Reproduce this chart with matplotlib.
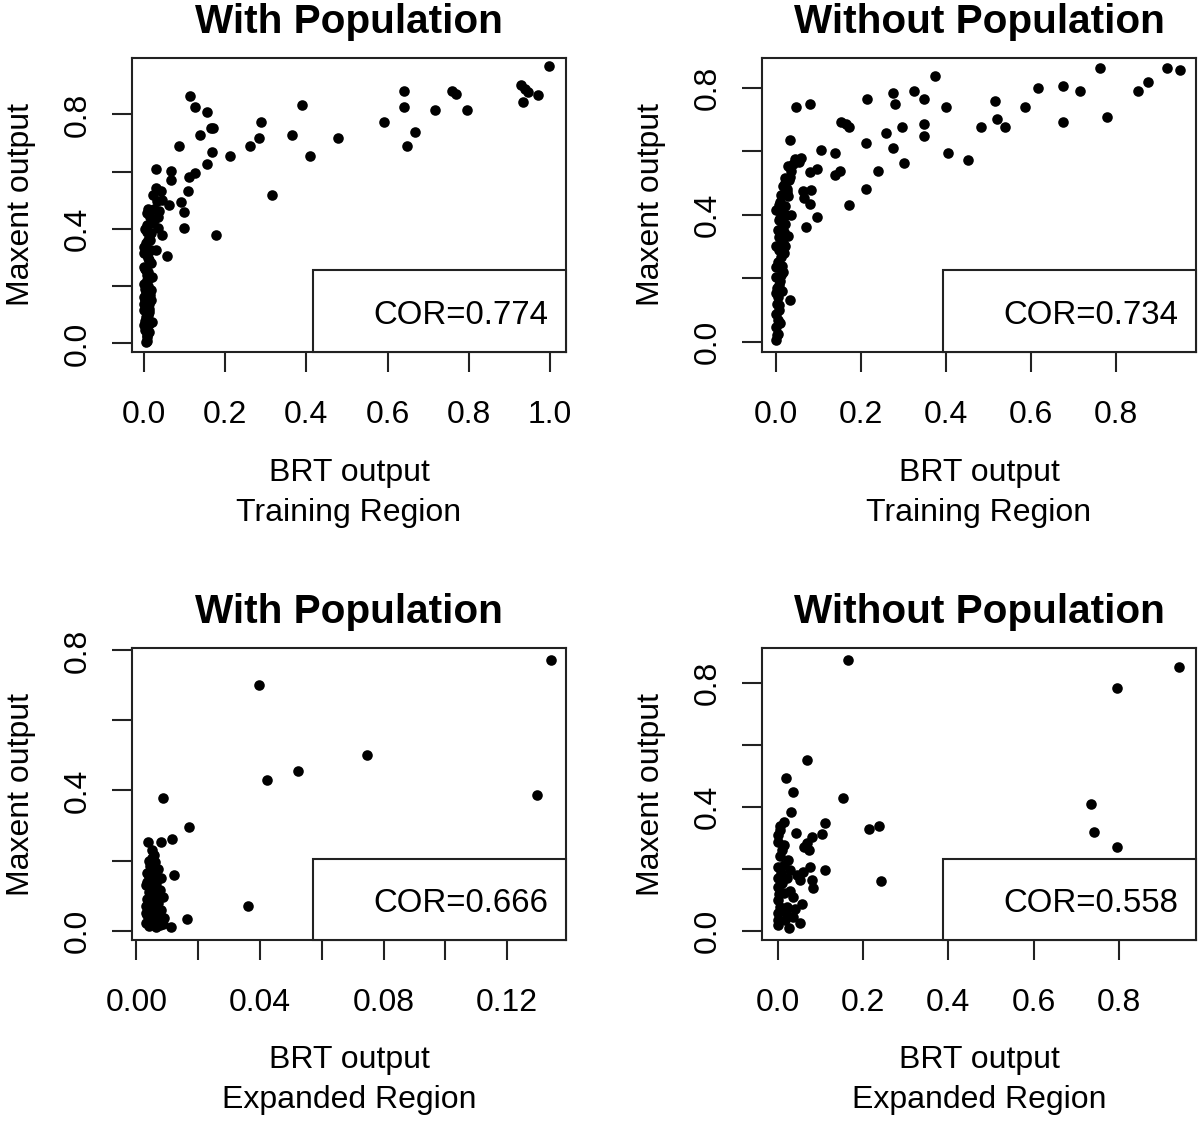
import matplotlib
matplotlib.use("Agg")
import matplotlib.pyplot as plt
from matplotlib.patches import Rectangle

plt.rcParams['font.family'] = ['Liberation Sans', 'DejaVu Sans']

# ---------------- data ----------------
# Panel 1: With Population, Training Region
x1 = [0.998, 0.930, 0.939, 0.947, 0.971, 0.933, 0.758, 0.770, 0.795, 0.717,
      0.641, 0.641, 0.668, 0.648, 0.592, 0.477, 0.389, 0.365, 0.408, 0.316,
      0.289, 0.283, 0.262, 0.211, 0.176, 0.168, 0.156, 0.164, 0.170, 0.156,
      0.138, 0.125, 0.112, 0.086, 0.125, 0.111, 0.107, 0.090, 0.098, 0.098,
      0.066, 0.066, 0.029, 0.061, 0.056, 0.043,
      0.029, 0.041, 0.031, 0.045, 0.008, 0.037, 0.007, 0.025, 0.033, 0.016,
      0.000, 0.029, 0.016, 0.004, 0.020, 0.000, 0.016, 0.000, 0.012, 0.000,
      0.020, 0.004, 0.002, 0.008, 0.004, 0.010, 0.000, 0.012, 0.008, 0.012,
      0.000, 0.004, 0.000, 0.015, 0.007, 0.018, 0.000, 0.012, 0.016,
      0.005, 0.010, 0.006, 0.010, 0.005, 0.009, 0.003, 0.011, 0.006, 0.002,
      0.013, 0.008, 0.020, 0.024, 0.022, 0.035, 0.006, 0.003, 0.014, 0.009,
      0.004, 0.012, 0.002, 0.010, 0.006, 0.014, 0.003, 0.008]
y1 = [0.968, 0.901, 0.889, 0.877, 0.868, 0.842, 0.883, 0.871, 0.816, 0.816,
      0.880, 0.825, 0.737, 0.690, 0.772, 0.716, 0.834, 0.727, 0.653, 0.520,
      0.774, 0.719, 0.690, 0.655, 0.377, 0.667, 0.626, 0.751, 0.754, 0.807,
      0.727, 0.827, 0.863, 0.690, 0.594, 0.582, 0.532, 0.494, 0.458, 0.404,
      0.602, 0.571, 0.611, 0.482, 0.304, 0.380,
      0.543, 0.531, 0.496, 0.502, 0.455, 0.461, 0.414, 0.432, 0.402, 0.385,
      0.315, 0.326, 0.280, 0.256, 0.233, 0.209, 0.186, 0.163, 0.139, 0.116,
      0.075, 0.092, 0.046, 0.022, 0.005, 0.361, 0.338, 0.291, 0.174, 0.069,
      0.268, 0.127, 0.063, 0.443, 0.221, 0.151, 0.139, 0.040, 0.326,
      0.350, 0.300, 0.240, 0.200, 0.180, 0.100, 0.080, 0.120, 0.030, 0.260,
      0.230, 0.390, 0.420, 0.470, 0.520, 0.440, 0.010, 0.150, 0.360, 0.470,
      0.050, 0.110, 0.190, 0.250, 0.310, 0.170, 0.400, 0.060]

# Panel 2: Without Population, Training Region
x2 = [0.763, 0.920, 0.952, 0.877, 0.853, 0.780, 0.715, 0.676, 0.676, 0.616,
      0.587, 0.515, 0.520, 0.540, 0.483, 0.453, 0.406, 0.400, 0.374, 0.348,
      0.325, 0.349, 0.349, 0.276, 0.280, 0.296, 0.276, 0.301, 0.258, 0.240,
      0.214, 0.211, 0.211, 0.172, 0.152, 0.173, 0.164, 0.138, 0.150, 0.138,
      0.106, 0.096, 0.096, 0.071, 0.079, 0.083, 0.063, 0.067, 0.080, 0.047,
      0.081, 0.034, 0.059, 0.055, 0.032,
      0.028, 0.035, 0.020, 0.022, 0.016, 0.012, 0.028, 0.000, 0.020, 0.035,
      0.008, 0.028, 0.004, 0.016, 0.000, 0.012, 0.000, 0.016, 0.000, 0.008,
      0.000, 0.008, 0.000, 0.004, 0.000, 0.004, 0.000,
      0.010, 0.024, 0.015, 0.006, 0.018, 0.005, 0.010, 0.004, 0.006, 0.002,
      0.026, 0.030, 0.040, 0.045, 0.012, 0.022, 0.008, 0.014, 0.002,
      0.018, 0.010, 0.025, 0.006, 0.020, 0.012, 0.003, 0.015, 0.032, 0.009]
y2 = [0.861, 0.863, 0.855, 0.816, 0.789, 0.707, 0.789, 0.805, 0.692, 0.798,
      0.740, 0.758, 0.702, 0.676, 0.676, 0.571, 0.595, 0.740, 0.837, 0.765,
      0.789, 0.684, 0.649, 0.784, 0.747, 0.676, 0.611, 0.563, 0.658, 0.537,
      0.765, 0.626, 0.482, 0.432, 0.692, 0.676, 0.686, 0.595, 0.539, 0.524,
      0.603, 0.545, 0.392, 0.360, 0.434, 0.479, 0.474, 0.451, 0.535, 0.740,
      0.747, 0.634, 0.579, 0.566, 0.132,
      0.553, 0.537, 0.516, 0.500, 0.489, 0.463, 0.458, 0.416, 0.426, 0.400,
      0.384, 0.332, 0.353, 0.311, 0.300, 0.268, 0.237, 0.221, 0.205, 0.179,
      0.153, 0.116, 0.089, 0.068, 0.047, 0.026, 0.005,
      0.440, 0.400, 0.360, 0.330, 0.280, 0.250, 0.190, 0.140, 0.100, 0.020,
      0.480, 0.510, 0.560, 0.575, 0.410, 0.370, 0.290, 0.240, 0.170,
      0.345, 0.390, 0.470, 0.430, 0.300, 0.210, 0.120, 0.160, 0.520, 0.060]

# Panel 3: With Population, Expanded Region
x3 = [0.1340, 0.0397, 0.0746, 0.0523, 0.0422, 0.1296, 0.0086, 0.0172, 0.0114,
      0.0080, 0.0037, 0.0121, 0.0362, 0.0164, 0.0112,
      0.0050, 0.0056, 0.0040, 0.0060, 0.0050, 0.0070, 0.0035, 0.0060, 0.0080,
      0.0045, 0.0065, 0.0030, 0.0055, 0.0075, 0.0040, 0.0060, 0.0085, 0.0035,
      0.0050, 0.0070, 0.0030, 0.0060, 0.0080, 0.0045, 0.0055, 0.0035, 0.0070,
      0.0090, 0.0040, 0.0060, 0.0030, 0.0050, 0.0075, 0.0040, 0.0065, 0.0085,
      0.0035, 0.0055, 0.0045, 0.0065, 0.0030, 0.0075, 0.0050, 0.0060, 0.0040]
y3 = [0.773, 0.700, 0.502, 0.457, 0.429, 0.386, 0.378, 0.297, 0.261,
      0.254, 0.254, 0.159, 0.071, 0.033, 0.011,
      0.230, 0.216, 0.200, 0.195, 0.180, 0.175, 0.165, 0.160, 0.150,
      0.145, 0.135, 0.130, 0.120, 0.115, 0.110, 0.100, 0.095, 0.090,
      0.085, 0.080, 0.070, 0.065, 0.060, 0.055, 0.048, 0.045, 0.040,
      0.035, 0.030, 0.025, 0.022, 0.018, 0.015, 0.012, 0.010, 0.020,
      0.140, 0.105, 0.185, 0.125, 0.050, 0.058, 0.208, 0.088, 0.155]

# Panel 4: Without Population, Expanded Region
x4 = [0.164, 0.941, 0.796, 0.735, 0.742, 0.796, 0.069, 0.020, 0.037, 0.153,
      0.031, 0.112, 0.213, 0.237, 0.243, 0.110, 0.104, 0.080, 0.069, 0.073,
      0.061, 0.044,
      0.006, 0.000, 0.006, 0.014, 0.000, 0.014, 0.006, 0.000, 0.014, 0.076,
      0.030, 0.000, 0.022, 0.053, 0.080, 0.084, 0.000, 0.014, 0.037, 0.057,
      0.000, 0.022, 0.000, 0.037, 0.053, 0.002, 0.026, 0.000, 0.018, 0.006,
      0.010, 0.030, 0.045, 0.010, 0.025, 0.004, 0.060, 0.020, 0.040, 0.008]
y4 = [0.876, 0.851, 0.784, 0.410, 0.320, 0.272, 0.552, 0.495, 0.447, 0.428,
      0.385, 0.347, 0.329, 0.337, 0.162, 0.196, 0.312, 0.304, 0.283, 0.261,
      0.272, 0.315,
      0.340, 0.310, 0.325, 0.353, 0.288, 0.277, 0.240, 0.207, 0.213, 0.207,
      0.196, 0.169, 0.169, 0.164, 0.164, 0.137, 0.142, 0.121, 0.110, 0.088,
      0.099, 0.078, 0.056, 0.045, 0.024, 0.018, 0.008, 0.035, 0.035, 0.078,
      0.153, 0.130, 0.180, 0.260, 0.230, 0.120, 0.190, 0.060, 0.070, 0.185]

titles = ["With Population", "Without Population", "With Population", "Without Population"]
regions = ["Training Region", "Training Region", "Expanded Region", "Expanded Region"]
cors = ["COR=0.774", "COR=0.734", "COR=0.666", "COR=0.558"]

xticks = [[0.0, 0.2, 0.4, 0.6, 0.8, 1.0], [0.0, 0.2, 0.4, 0.6, 0.8],
          [0.00, 0.02, 0.04, 0.06, 0.08, 0.10, 0.12], [0.0, 0.2, 0.4, 0.6, 0.8]]
xticklabels = [["0.0", "0.2", "0.4", "0.6", "0.8", "1.0"],
               ["0.0", "0.2", "0.4", "0.6", "0.8"],
               ["0.00", "", "0.04", "", "0.08", "", "0.12"],
               ["0.0", "0.2", "0.4", "0.6", "0.8"]]
yticks = [0.0, 0.2, 0.4, 0.6, 0.8]
yticklabels = ["0.0", "", "0.4", "", "0.8"]
xlims = [(-0.03, 1.04), (-0.033, 0.989), (-0.0014, 0.139), (-0.0365, 0.98)]
ylims = [(-0.03, 0.997), (-0.032, 0.893), (-0.027, 0.807), (-0.03, 0.914)]

xs = [x1, x2, x3, x4]
ys = [y1, y2, y3, y4]

# ---------------- figure ----------------
W, H = 1200, 1124
fig = plt.figure(figsize=(W / 100, H / 100), dpi=100)
boxes = [(132, 58, 566, 352), (762, 58, 1196, 352),
         (132, 648, 566, 940), (762, 648, 1196, 940)]

FS = 23
for i in range(4):
    l, t, r, b = boxes[i]
    ax = fig.add_axes([l / W, 1 - b / H, (r - l) / W, (b - t) / H])
    ax.scatter(xs[i], ys[i], s=58, c='black', linewidths=0, zorder=3)
    ax.set_xlim(*xlims[i])
    ax.set_ylim(*ylims[i])
    ax.set_xticks(xticks[i])
    ax.set_xticklabels(xticklabels[i])
    ax.set_yticks(yticks)
    ax.set_yticklabels(yticklabels, rotation=90, va='center')
    ax.tick_params(axis='both', direction='out', length=14.5, width=1.5,
                   labelsize=FS, color='#222222')
    ax.tick_params(axis='x', pad=20)
    ax.tick_params(axis='y', pad=14)
    for sp in ax.spines.values():
        sp.set_linewidth(1.5)
        sp.set_color('#222222')
    ax.set_title(titles[i], fontsize=29.2, fontweight='bold', pad=18)
    ax.set_xlabel("BRT output\n" + regions[i], fontsize=FS, linespacing=1.45)
    ax.xaxis.set_label_coords(0.5, -0.36)
    ax.xaxis.label.set_va('top')
    ax.set_ylabel("Maxent output", fontsize=FS)
    ax.yaxis.set_label_coords(-0.255, 0.5)
    ax.yaxis.label.set_va('center')
    rect = Rectangle((0.418, 0.0), 0.582, 0.278, transform=ax.transAxes,
                     facecolor='white', edgecolor='#222222', linewidth=1.5,
                     zorder=4, clip_on=False)
    ax.add_patch(rect)
    ax.text(0.96, 0.125, cors[i], transform=ax.transAxes, ha='right',
            va='center', fontsize=23.8, zorder=5)

fig.savefig("out.png", dpi=100)
